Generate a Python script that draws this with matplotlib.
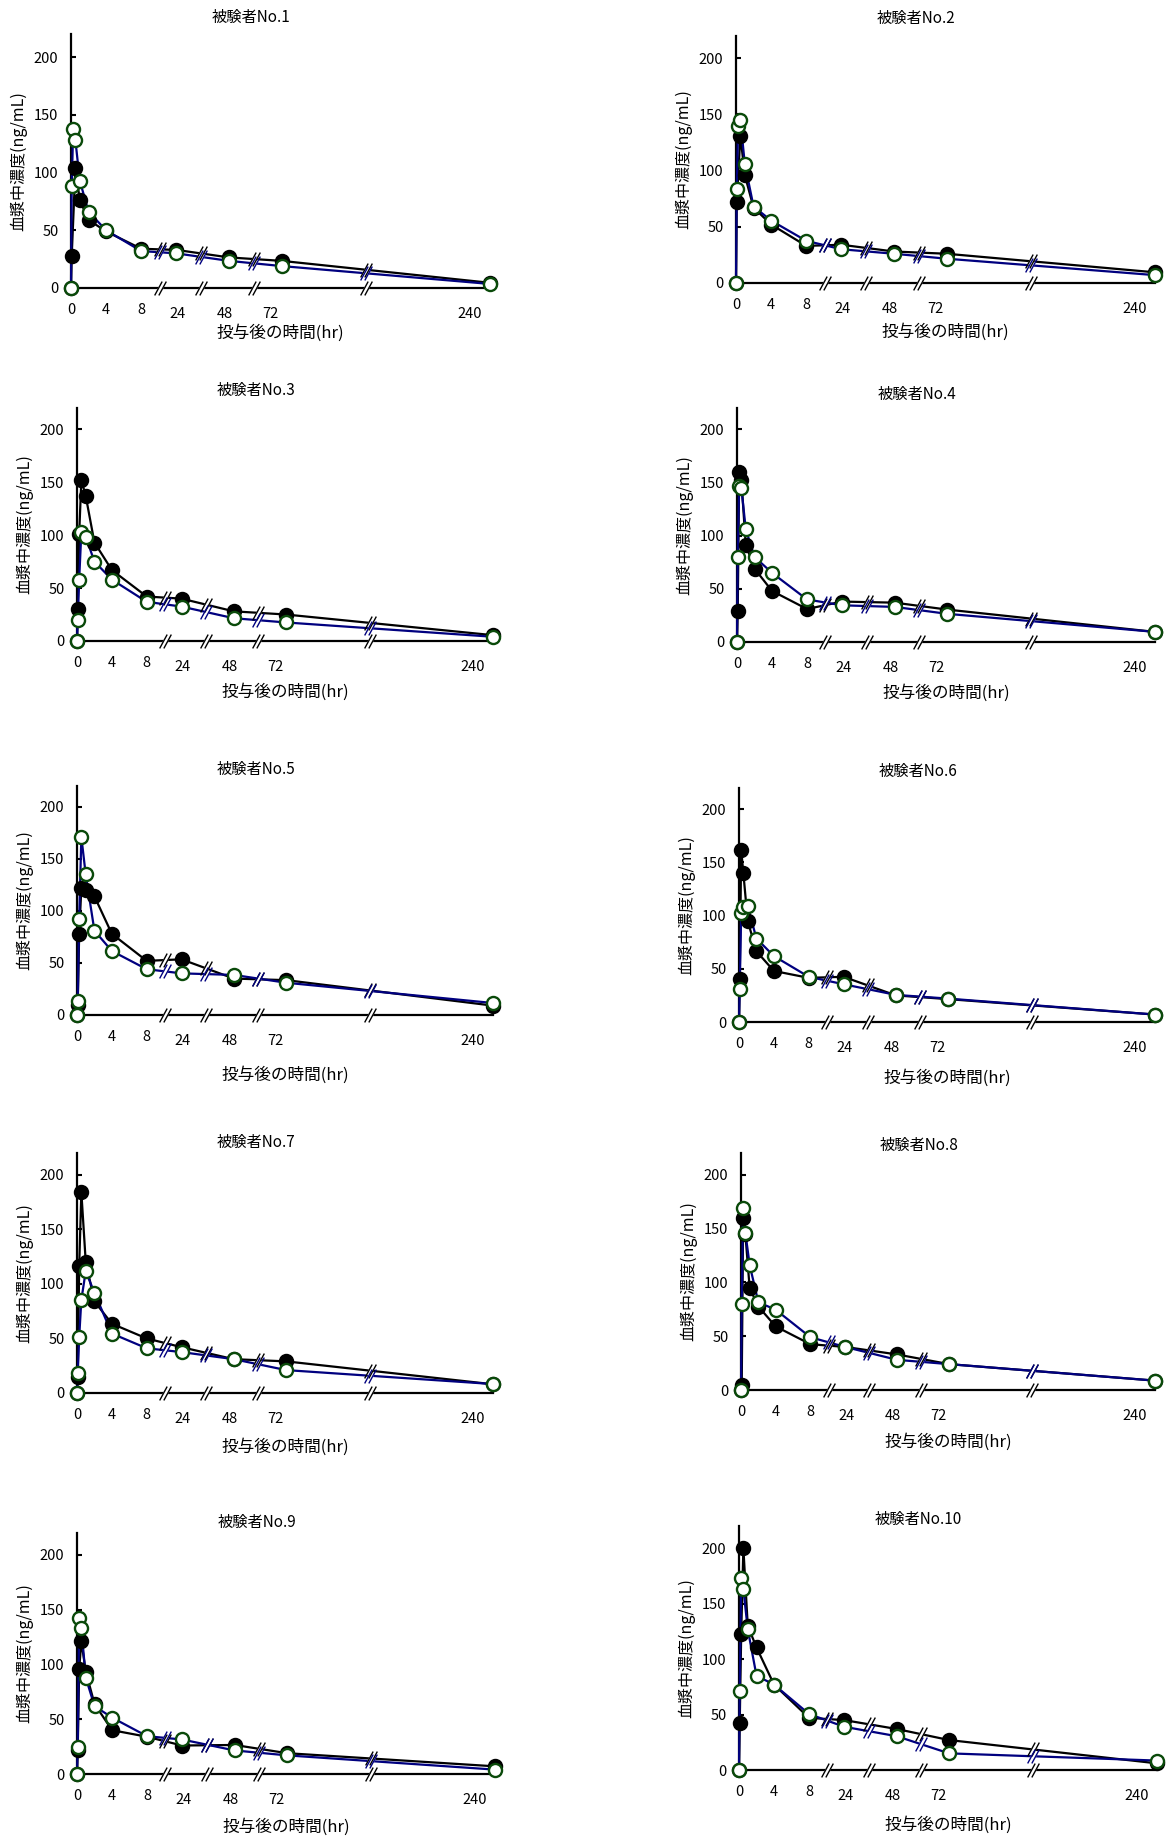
import numpy as np
import matplotlib
matplotlib.use('Agg')
import matplotlib.pyplot as plt
from matplotlib.path import Path
from matplotlib.transforms import ScaledTranslation

plt.rcParams['font.family'] = ['Noto Sans CJK JP', 'DejaVu Sans']

# ---------------- data ----------------
hours = [0, 0.083, 0.25, 0.5, 1, 2, 4, 8, 24, 48, 72, 240]
nan = np.nan

s1_black = [0, 28, nan, 104, 76, 59, 49, 34, 33, 26.5, 23.5, 4.5]
s1_white = [0, 88, 138, 128, 93, 66, 50, 32, 30, 23.5, 19, 3.5]
s2_black = [0, 72, nan, 131, 96, 67, 52, 33, 34, 28, 26, 9.5]
s2_white = [0, 84, 140, 145, 106, 68, 55.5, 37.5, 30, 26, 21.6, 7]
s3_black = [0, 30, 101, 152, 137, 93, 67, 42, 40, 28, 25, 5.5]
s3_white = [0, 20, 58, 103, 98.5, 75, 58, 37, 32.5, 21.5, 17.5, 4]
s4_black = [0, 29, 160, 152, 91.5, 69, 48, 31, 38, 37, 30.5, 9.5]
s4_white = [0, 80, 147, 145, 106, 80, 65, 40, 34.5, 33, 26.5, 9.5]
s5_black = [0, 10, 78, 122, 120, 114, 78, 52, 53.5, 35, 33.5, 9]
s5_white = [0, 13, 92.5, 171, 135, 81, 61.5, 44, 40, 38.5, 31, 11.5]
s6_black = [0, 40, 162, 140, 95, 66.5, 48, 41.5, 42.5, 25, 21.5, 7]
s6_white = [0, 31, 102.5, 108, 109, 78.5, 62, 42.5, 35.5, 25.5, 22, 7]
s7_black = [0, 14.5, 116, 184, 120.5, 84, 63.5, 50, 42, 31, 29, 8]
s7_white = [0, 18, 51, 85.5, 111.5, 92, 54.5, 41, 37.5, 31, 21, 8.2]
s8_black = [0, 5, 160, 145, 94.5, 77.5, 59, 42.5, 40, 33, 24, 8.7]
s8_white = [0, 79.5, 169, 146, 116, 81.5, 74.5, 49, 40, 28, 24, 8.7]
s9_black = [0, 22, 96, 121, 93.5, 64, 40, 34, 26, 26.5, 19, 7]
s9_white = [0, 25, 142, 133, 88, 62, 51.5, 34.5, 31.5, 21.5, 17, 4]
s10_black = [0, 42, 122.5, 200, 130, 110.5, 77, 47, 45, 37, 27, 6]
s10_white = [0, 71.5, 173.5, 163, 127, 85, 77, 50.5, 39, 30.5, 15, 8.5]

titles = ['被験者No.%d' % i for i in range(1, 11)]
xlabel_text = '投与後の時間(hr)'
ylabel_text = '血漿中濃度(ng/mL)'
xtick_major = [0, 4, 8]
xtick_minor = [24, 48, 72, 240]
yticks = [0, 50, 100, 150, 200]

black_sets = [s1_black, s2_black, s3_black, s4_black, s5_black,
              s6_black, s7_black, s8_black, s9_black, s10_black]
white_sets = [s1_white, s2_white, s3_white, s4_white, s5_white,
              s6_white, s7_white, s8_white, s9_white, s10_white]

# ---------------- broken time axis (piecewise linear scale) ----------------
knot_h = np.array([0, 8, 24, 48, 72, 240], dtype=float)
knot_u = np.array([0, 8, 12, 18, 24, 47.75])


def fwd(h):
    return np.interp(h, knot_h, knot_u)


def inv(u):
    return np.interp(u, knot_u, knot_h)


break_hours = inv(np.array([10.1, 14.8, 20.8, 33.6]))
minor_label_shift_px = [1.5, -4, -11, -20]

# ---------------- layout (pixels) ----------------
W, H = 1168, 1838
DPI = 100
lefts = [71, 736, 77, 737, 77, 739, 77, 741, 77, 739]
rights = [490, 1155, 493, 1155, 493, 1155, 493, 1155, 495, 1157]
bottoms = [288, 283, 641, 642, 1015, 1022, 1393, 1390, 1774, 1770]
tops = [34, 35.5, 408, 408, 786, 788, 1153, 1153, 1533, 1526]
title_gap = [17, 17.5, 18, 14, 17, 17, 11, 8, 11, 7]
xlabel_gap = [45, 49, 51, 51, 60, 56, 54, 52, 53, 55]

PT = 72.0 / DPI  # points per pixel

navy = '#00007f'
green = '#0a4a0a'

# break-mark markers
sl = 0.54
slash = Path([(-0.15 - 0.27, -0.5), (-0.15 + 0.27, 0.5),
              (0.15 - 0.27, -0.5), (0.15 + 0.27, 0.5)],
             [Path.MOVETO, Path.LINETO, Path.MOVETO, Path.LINETO])
gh = 0.22
gap_verts = [(-0.15 - sl * gh, -gh), (-0.15 + sl * gh, gh),
             (0.15 + sl * gh, gh), (0.15 - sl * gh, -gh), (-0.15 - sl * gh, -gh)]
gap = Path(gap_verts, [Path.MOVETO, Path.LINETO, Path.LINETO, Path.LINETO, Path.CLOSEPOLY])
gap_scale = np.max(np.abs(np.array(gap_verts))) / 0.5
BREAK_MS = 10


def draw_breaks(ax, xs, ys, color):
    ax.plot(xs, ys, linestyle='none', marker=gap, markersize=BREAK_MS * gap_scale,
            markerfacecolor='white', markeredgecolor='white', markeredgewidth=0.8,
            clip_on=False, zorder=4)
    ax.plot(xs, ys, linestyle='none', marker=slash, markersize=BREAK_MS,
            markerfacecolor='none', markeredgecolor=color, markeredgewidth=1.0,
            clip_on=False, zorder=4.5)


fig = plt.figure(figsize=(W / DPI, H / DPI), dpi=DPI)

for i in range(10):
    l, r, b, t = lefts[i], rights[i], bottoms[i], tops[i]
    ax = fig.add_axes([l / W, 1 - b / H, (r - l) / W, (b - t) / H])
    ax.set_xscale('function', functions=(fwd, inv))
    ax.set_xlim(0, 240)
    ax.set_ylim(0, 220)

    for side in ('top', 'right'):
        ax.spines[side].set_visible(False)
    for side in ('left', 'bottom'):
        ax.spines[side].set_linewidth(1.6)
        ax.spines[side].set_color('black')

    hs = np.array(hours, dtype=float)
    for vals, lc, fc, ec, zl, zm in ((black_sets[i], 'black', 'black', 'black', 3, 5),
                                     (white_sets[i], navy, 'white', green, 3.2, 5.2)):
        v = np.array(vals, dtype=float)
        ok = np.isfinite(v)
        ax.plot(hs[ok], v[ok], color=lc, linewidth=1.6, zorder=zl, clip_on=False)
        ax.plot(hs[ok], v[ok], linestyle='none', marker='o', markersize=9.4,
                markerfacecolor=fc, markeredgecolor=ec, markeredgewidth=1.7,
                zorder=zm, clip_on=False)
        by = np.interp(break_hours, hs[ok], v[ok])
        draw_breaks(ax, break_hours, by, lc)

    # axis breaks on the x axis
    draw_breaks(ax, break_hours, np.zeros(len(break_hours)), 'black')

    # ticks
    ax.set_yticks(yticks)
    ax.set_yticklabels([str(y) for y in yticks])
    ax.tick_params(axis='y', direction='in', length=3.8, width=1.5, pad=9, labelsize=10.5)
    ax.set_xticks(xtick_major)
    ax.set_xticklabels([str(x) for x in xtick_major])
    ax.set_xticks(xtick_minor, minor=True)
    ax.set_xticklabels([str(x) for x in xtick_minor], minor=True)
    ax.tick_params(axis='x', which='major', length=0, pad=11, labelsize=10.5)
    ax.tick_params(axis='x', which='minor', length=0, pad=14, labelsize=10.5)
    for lab, dx in zip(ax.xaxis.get_minorticklabels(), minor_label_shift_px):
        lab.set_transform(lab.get_transform() +
                          ScaledTranslation(dx / DPI, 0, fig.dpi_scale_trans))

    # texts
    ax.annotate(titles[i], xy=(0.43, 1), xycoords='axes fraction',
                xytext=(0, title_gap[i] * PT), textcoords='offset points',
                ha='center', va='center', fontsize=11)
    ax.annotate(xlabel_text, xy=(0.5, 0), xycoords='axes fraction',
                xytext=(0, -xlabel_gap[i] * PT), textcoords='offset points',
                ha='center', va='center', fontsize=12)
    ax.annotate(ylabel_text, xy=(0, 0.5), xycoords='axes fraction',
                xytext=(-52 * PT, 0), textcoords='offset points',
                ha='center', va='center', rotation=90, fontsize=11.5)

fig.savefig('out.png', dpi=DPI)
